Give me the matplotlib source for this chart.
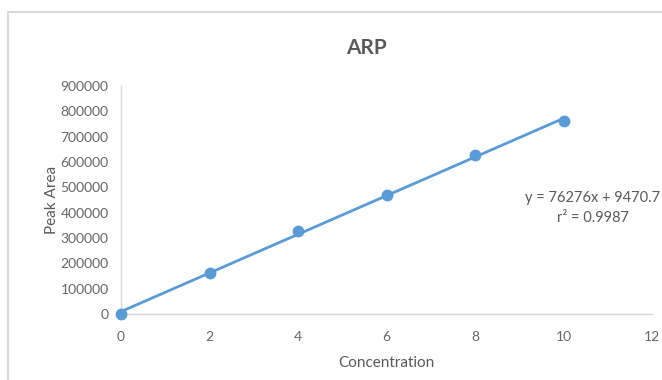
import matplotlib
matplotlib.use("Agg")
import matplotlib.pyplot as plt
from matplotlib.lines import Line2D

# Calibration data
concentration = [0, 2, 4, 6, 8, 10]
peak_area = [0, 162000, 326000, 470000, 628000, 760000]

# Linear trendline
slope = 76276
intercept = 9470.7
r_squared = 0.9987

x_ticks = [0, 2, 4, 6, 8, 10, 12]
y_ticks = [0, 100000, 200000, 300000, 400000, 500000, 600000, 700000, 800000, 900000]

plt.rcParams["font.family"] = ["Lato", "DejaVu Sans"]

W, H = 662, 380
fig = plt.figure(figsize=(W / 100, H / 100), dpi=100)
fig.patch.set_facecolor("white")

# chart-area border (top and left edges)
border = "#d9d9d9"
fig.add_artist(Line2D([8 / W, 1.0], [1 - 12 / H, 1 - 12 / H], transform=fig.transFigure,
                      color=border, linewidth=1.5))
fig.add_artist(Line2D([8 / W, 8 / W], [0.0, 1 - 12 / H], transform=fig.transFigure,
                      color=border, linewidth=1.5))

left, right, bottom, top = 121, 652, 314, 86
ax = fig.add_axes([left / W, 1 - bottom / H, (right - left) / W, (bottom - top) / H])

grey = "#595959"
tick_grey = "#666666"
blue = "#5B9BD5"

xs = [0, 10]
ax.plot(xs, [slope * x + intercept for x in xs], color=blue, linewidth=2, zorder=2)
ax.plot(concentration, peak_area, linestyle="none", marker="o", markersize=7.5,
        color=blue, zorder=3, clip_on=False)

ax.set_xlim(0, 12)
ax.set_ylim(0, 900000)
ax.set_xticks(x_ticks)
ax.set_yticks(y_ticks)
ax.set_xticklabels([str(t) for t in x_ticks])
ax.set_yticklabels([str(t) for t in y_ticks])
ax.tick_params(length=0, labelsize=10, colors=tick_grey)
ax.tick_params(axis="x", pad=12)
ax.tick_params(axis="y", pad=9)

for side in ("top", "right"):
    ax.spines[side].set_visible(False)
for side in ("left", "bottom"):
    ax.spines[side].set_color(border)
    ax.spines[side].set_linewidth(1)

fig.text(366 / W, 1 - 48 / H, "ARP", ha="center", va="center",
         fontsize=15, fontweight="bold", color=grey)
fig.text(386 / W, 1 - 363 / H, "Concentration", ha="center", va="center",
         fontsize=11, color=grey)
fig.text(52 / W, 1 - 200 / H, "Peak Area", ha="center", va="center",
         rotation=90, fontsize=11, color=grey)

fig.text(593 / W, 1 - 198 / H, f"y = {slope}x + {intercept}", ha="center", va="center",
         fontsize=10.5, color=grey)
fig.text(593 / W, 1 - 218 / H, f"r² = {r_squared}", ha="center", va="center",
         fontsize=10.5, color=grey)

fig.savefig("out.png", dpi=100, facecolor="white")
